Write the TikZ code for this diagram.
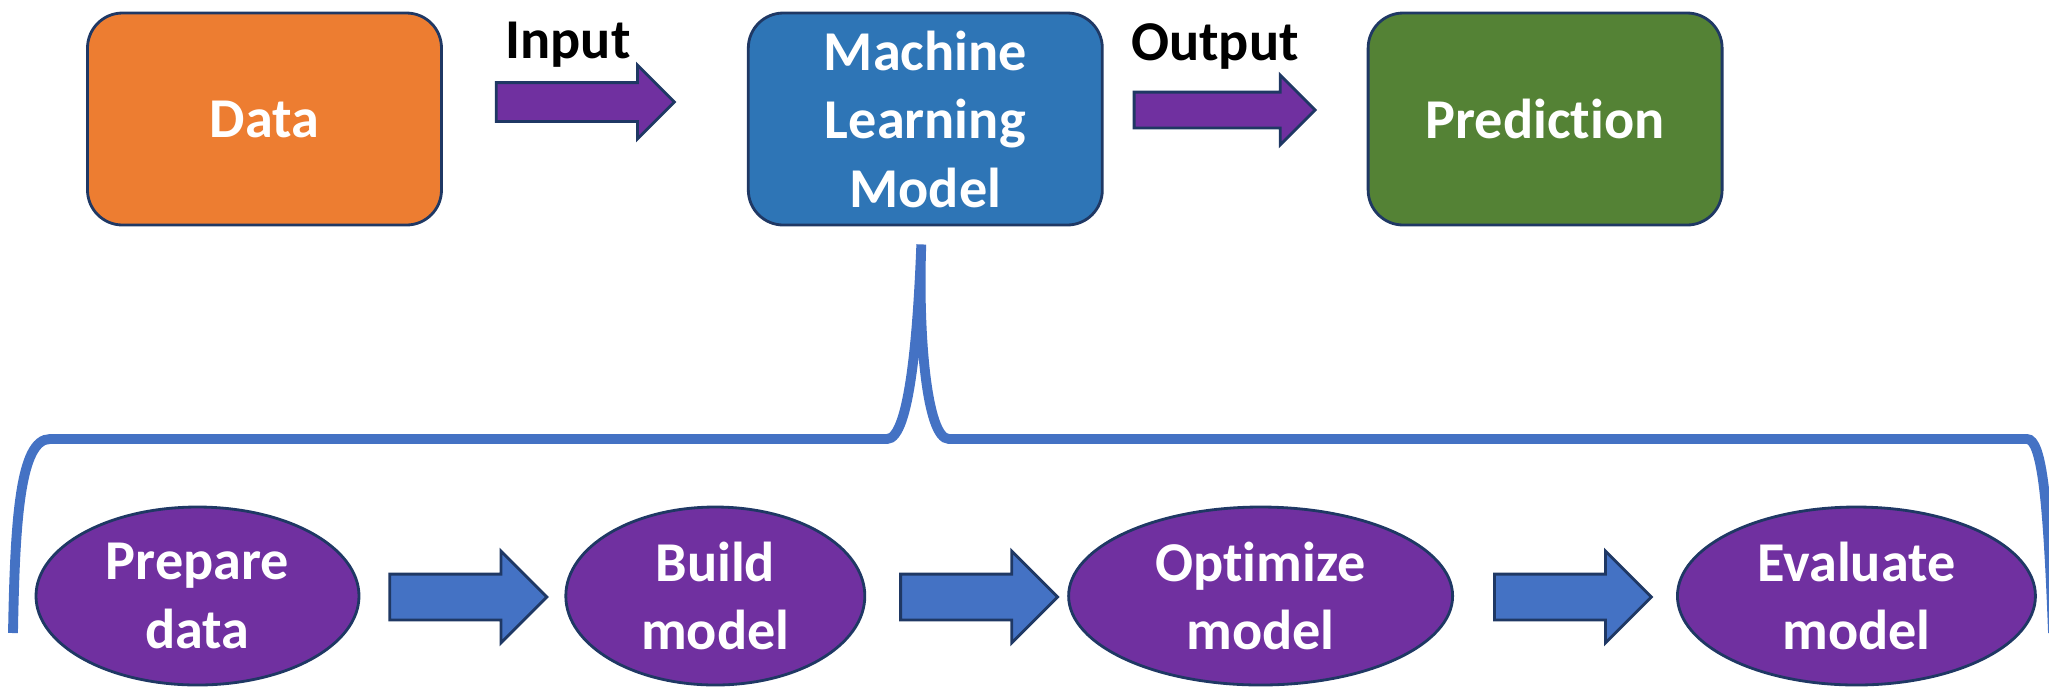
\documentclass[tikz,border=0pt]{standalone}
\usepackage{fontspec}
\setmainfont[Ligatures=NoCommon]{Carlito}
\usetikzlibrary{positioning,shapes.geometric,shapes.arrows,calc}
\definecolor{dataorange}{HTML}{ED7D31}
\definecolor{mlblue}{HTML}{2E75B6}
\definecolor{predgreen}{HTML}{548235}
\definecolor{stepviolet}{HTML}{7030A0}
\definecolor{flowblue}{HTML}{4472C4}
\definecolor{rim}{HTML}{1F3864}
\tikzset{
    box/.style =    {rectangle,
                    rounded corners=0.35cm,
                    draw=rim,
                    text=white,
                    line width=0.8pt,
                    minimum width=3.54cm,
                    minimum height=2.12cm,
                    align=center,
                    font=\bfseries\fontsize{16}{19.5}\selectfont},
    stage/.style =  {ellipse,
                    fill=stepviolet,
                    draw=rim,
                    text=white,
                    line width=0.8pt,
                    inner sep=0pt,
                    minimum height=1.78cm,
                    align=center,
                    font=\bfseries\fontsize{16}{19.5}\selectfont},
    fat/.style =    {single arrow,
                    draw=rim,
                    line width=0.8pt,
                    inner xsep=0pt,
                    anchor=tail},
    word/.style =   {text=black,
                    anchor=base,
                    font=\bfseries\fontsize{16}{19.5}\selectfont},
    -,
    brace/.style =  {draw=flowblue,
                    line width=2.8pt}}

\begin{document}
\begin{tikzpicture}
                \useasboundingbox (0,0) rectangle (20.49,-6.92);
                % top row
                \node[box,fill=dataorange]  (data) at (2.645,-1.19)       {Data};
                \node[box,fill=mlblue]      (ml)   [right=3.04cm of data] {Machine\\Learning\\Model};
                \node[box,fill=predgreen]   (pred) [right=2.63cm of ml]   {Prediction};
                \node[fat,fill=stepviolet,minimum height=1.78cm,inner ysep=0.18cm,single arrow head extend=0.175cm]
                                            (in)   at ($(data.east)+(0.52,0.17)$) {};
                \node[fat,fill=stepviolet,minimum height=1.81cm,inner ysep=0.165cm,single arrow head extend=0.17cm]
                                            (out)  at ($(ml.east)+(0.29,0.09)$)   {};
                \node[word]                 (inword)  at (5.68,-0.58)     {Input};
                \node[word]                 (outword) at (12.15,-0.60)    {Output};
                % steps inside the model
                \node[stage,minimum width=3.23cm] (prep)  at (1.975,-5.96)          {Prepare\\data};
                \node[stage,minimum width=2.99cm] (build) [right=2.04cm of prep]    {Build\\model};
                \node[stage,minimum width=3.84cm] (opt)   [right=2.01cm of build]   {Optimize\\model};
                \node[stage,minimum width=3.58cm] (eval)  [right=2.22cm of opt]     {Evaluate\\model};
                \node[fat,fill=flowblue,minimum height=1.57cm,inner ysep=0.215cm,single arrow head extend=0.23cm]
                                            (s1) at ($(prep.east)+(0.28,-0.01)$)  {};
                \node[fat,fill=flowblue,minimum height=1.57cm,inner ysep=0.215cm,single arrow head extend=0.23cm]
                                            (s2) at ($(build.east)+(0.33,-0.01)$) {};
                \node[fat,fill=flowblue,minimum height=1.57cm,inner ysep=0.215cm,single arrow head extend=0.23cm]
                                            (s3) at ($(opt.east)+(0.39,-0.01)$)   {};
                % brace
                \coordinate (tip) at ($(ml.south)+(-0.04,-0.18)$);
                \draw[brace] (0.13,-6.33) .. controls (0.15,-5.20) and (0.20,-4.39) .. (0.50,-4.39)
                             -- (8.87,-4.39) .. controls (9.10,-4.39) and (9.18,-3.30) .. (tip)
                             .. controls (9.18,-3.30) and (9.26,-4.39) .. (9.49,-4.39)
                             -- (20.27,-4.39) .. controls (20.42,-4.39) and (20.48,-5.00) .. (20.53,-6.33);
\end{tikzpicture}
\end{document}
